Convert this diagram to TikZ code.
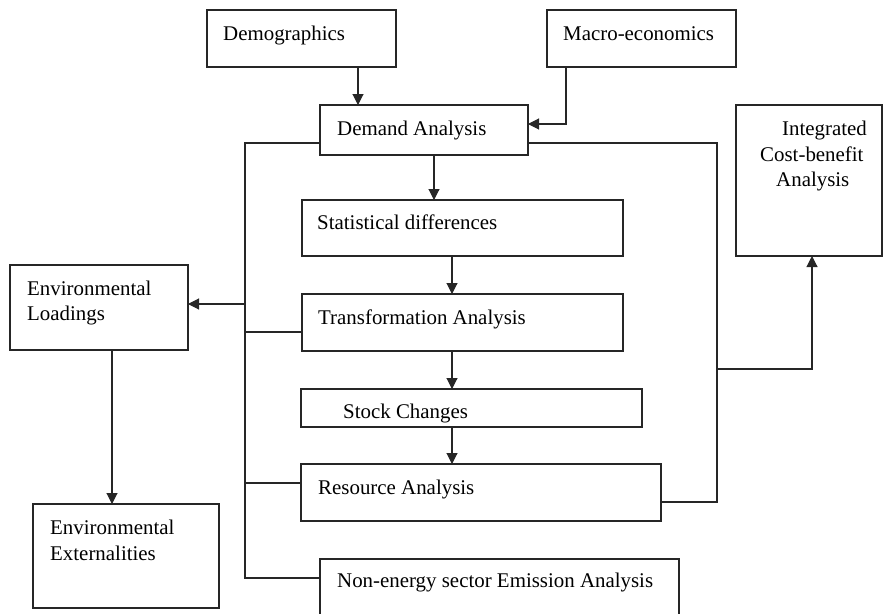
\documentclass[tikz,border=0pt]{standalone}
\usepackage{fontspec}
\setmainfont{Liberation Serif}
\usetikzlibrary{arrows.meta,calc}
\begin{document}
\begin{tikzpicture}[x=1pt,y={(0pt,-1pt)},
  ln/.style={line width=1.1pt,draw=black!85},
  arr/.style={ln,-{Triangle[length=11pt,width=11pt]}},
  box/.style={ln,rectangle,inner sep=0pt,outer sep=0pt},
  txt/.style={anchor=base west,inner sep=0pt,font=\fontsize{20.9}{25.5}\selectfont}]
\useasboundingbox (0,0) rectangle (883,613);
% boxes
\node[box,minimum width=189pt,minimum height=57pt] (demo) at (301.5,38.5) {};
\node[box,minimum width=189pt,minimum height=57pt] (macro) at (641.5,38.5) {};
\node[box,minimum width=208pt,minimum height=50pt] (demand) at (424,130) {};
\node[box,minimum width=146pt,minimum height=151pt] (icba) at (809,180.5) {};
\node[box,minimum width=321pt,minimum height=56pt] (stat) at (462.5,228) {};
\node[box,minimum width=178pt,minimum height=85pt] (envload) at (99,307.5) {};
\node[box,minimum width=321pt,minimum height=57pt] (trans) at (462.5,322.5) {};
\node[box,minimum width=341pt,minimum height=38pt] (stock) at (471.5,408) {};
\node[box,minimum width=360pt,minimum height=57pt] (res) at (481,492.5) {};
\node[box,minimum width=186pt,minimum height=104pt] (envext) at (126,556) {};
\node[rectangle,inner sep=0pt,outer sep=0pt,minimum width=359pt,minimum height=56pt] (nonen) at (499.5,587) {};
\draw[ln] (nonen.south west) -- (nonen.north west) -- (nonen.north east) -- (nonen.south east);
% texts
\node[txt] (tdemo) at (223,40) {Demographics};
\node[txt] (tmacro) at (563,40) {Macro-economics};
\node[txt] (tdemand) at (337,135) {Demand Analysis};
\node[txt] (ticba1) at (782,135) {Integrated};
\node[txt] (ticba2) at (760,161) {Cost-benefit};
\node[txt] (ticba3) at (776,186) {Analysis};
\node[txt] (tstat) at (317,229) {Statistical differences};
\node[txt] (tenvl1) at (27,295) {Environmental};
\node[txt] (tenvl2) at (27,320) {Loadings};
\node[txt] (ttrans) at (318,324) {Transformation Analysis};
\node[txt] (tstock) at (343,418) {Stock Changes};
\node[txt] (tres) at (318,494) {Resource Analysis};
\node[txt] (tenve1) at (50,534) {Environmental};
\node[txt] (tenve2) at (50,560) {Externalities};
\node[txt] (tnonen) at (337,587) {Non-energy sector Emission Analysis};
% helper coordinates
\coordinate (xdemo) at (358,0);
\coordinate (mac) at (566,124);
\coordinate (xds) at (434,0);
\coordinate (xmid) at (452,0);
\coordinate (tTop) at (245,143);
\coordinate (tBot) at (245,578);
\coordinate (tEnv) at (245,304);
\coordinate (tTr) at (245,332);
\coordinate (tRes) at (245,483);
\coordinate (xenv) at (112,0);
\coordinate (rTop) at (717,143);
\coordinate (rBot) at (717,502);
\coordinate (rBr) at (717,369);
\coordinate (xic) at (812,369);
% connectors
\draw[arr] (demo.south -| xdemo) -- (demand.north -| xdemo);
\draw[arr] (macro.south -| mac) |- (demand.east |- mac);
\draw[arr] (demand.south -| xds) -- (stat.north -| xds);
\draw[arr] (stat.south -| xmid) -- (trans.north -| xmid);
\draw[arr] (trans.south -| xmid) -- (stock.north -| xmid);
\draw[arr] (stock.south -| xmid) -- (res.north -| xmid);
\draw[ln] (demand.west |- tTop) -- (tTop) -- (tBot) -- (nonen.west |- tBot);
\draw[arr] (tEnv) -- (envload.east |- tEnv);
\draw[ln] (tTr) -- (trans.west |- tTr);
\draw[ln] (tRes) -- (res.west |- tRes);
\draw[arr] (envload.south -| xenv) -- (envext.north -| xenv);
\draw[ln] (demand.east |- rTop) -- (rTop) -- (rBot) -- (res.east |- rBot);
\draw[arr] (rBr) -- (xic) -- (icba.south -| xic);
\end{tikzpicture}
\end{document}
